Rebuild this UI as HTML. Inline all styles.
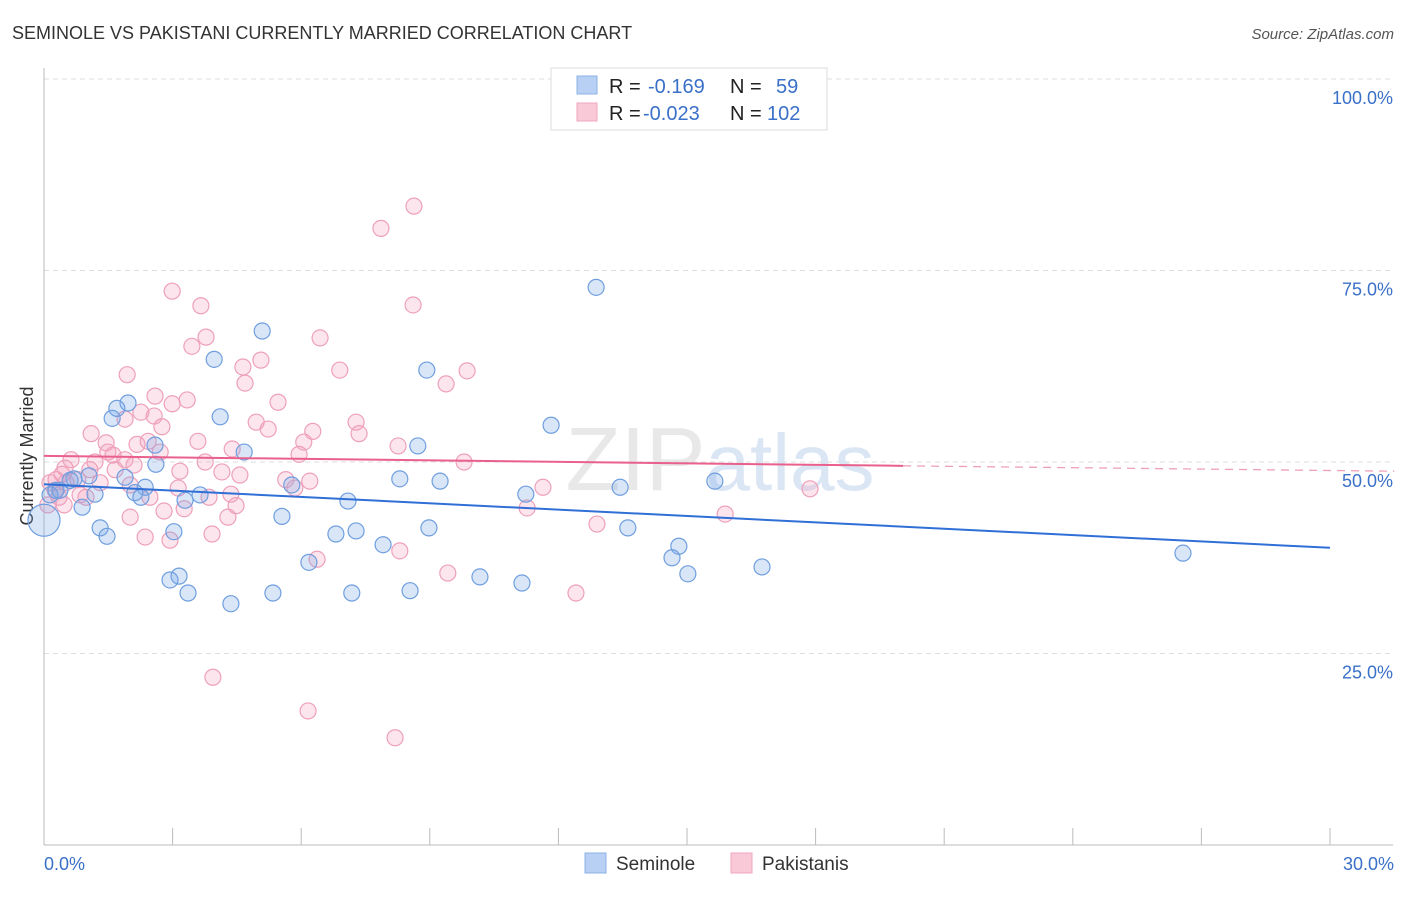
<!DOCTYPE html>
<html><head><meta charset="utf-8"><style>
body{margin:0;background:#fff;font-family:"Liberation Sans",sans-serif;}
svg text{font-family:"Liberation Sans",sans-serif;}
</style></head><body>
<svg id="chart" width="1406" height="892" xmlns="http://www.w3.org/2000/svg">
<text x="12" y="39" font-size="18" fill="#333">SEMINOLE VS PAKISTANI CURRENTLY MARRIED CORRELATION CHART</text>
<text x="1394" y="39" font-size="15" fill="#555" font-style="italic" text-anchor="end">Source: ZipAtlas.com</text>
<text x="33" y="456" font-size="18" fill="#333" transform="rotate(-90 33 456)" text-anchor="middle">Currently Married</text>
<text x="720" y="490" font-size="90" fill="#e8e8e8" text-anchor="middle" font-family="Liberation Serif">ZIP<tspan fill="#dbe6f5" font-family="Liberation Sans" font-size="80">atlas</tspan></text>
<g id="grid"></g><g id="axes"></g><g id="marks"></g><g id="trends"></g>
<g>
<rect x="551" y="68" width="276" height="62" fill="#fff" stroke="#ddd"/>
<rect x="577" y="76" width="20" height="18" fill="#b7d0f3" stroke="#8cb1e6"/>
<rect x="577" y="103" width="20" height="18" fill="#f9c9d8" stroke="#f0a6be"/>
<text x="609" y="93" font-size="20" fill="#222">R = <tspan fill="#3a70c8" x="648">-0.169</tspan><tspan fill="#222" x="730">N =</tspan><tspan fill="#3a70c8" x="776">59</tspan></text>
<text x="609" y="120" font-size="20" fill="#222">R = <tspan fill="#3a70c8" x="643">-0.023</tspan><tspan fill="#222" x="730">N =</tspan><tspan fill="#3a70c8" x="767">102</tspan></text>
</g>
<g>
<rect x="585" y="853" width="21" height="20" fill="#b7d0f3" stroke="#8cb1e6"/>
<text x="616" y="870" font-size="19" fill="#333">Seminole</text>
<rect x="731" y="853" width="21" height="20" fill="#f9c9d8" stroke="#f0a6be"/>
<text x="762" y="870" font-size="19" fill="#333">Pakistanis</text>
</g>
</svg>
<script>
const blueX=[12.88,5.09,3.97,8.93,11.83,4.11,1.59,1.96,1.70,4.67,2.61,2.59,8.72,8.30,9.24,1.05,0.70,1.89,2.36,2.12,2.26,3.64,3.29,1.19,0.89,0.28,5.78,7.09,11.24,13.44,15.65,1.31,1.47,5.55,3.03,6.81,7.28,7.91,8.98,13.62,14.81,14.65,15.02,16.75,26.57,6.18,3.15,2.94,3.36,4.36,5.34,7.18,8.54,10.17,11.15,0.14,0.37,0.61];
const blueY=[72.8,67.1,63.4,62.0,54.8,55.9,55.7,57.7,57.0,51.3,49.7,52.2,52.1,47.8,47.5,48.2,47.8,48.0,46.7,46.0,45.4,45.7,45.0,45.8,44.1,46.3,47.0,44.9,45.8,46.7,47.5,41.4,40.3,42.9,40.9,40.6,41.0,39.2,41.4,41.4,39.0,37.5,35.4,36.3,38.1,36.9,35.1,34.6,32.9,31.5,32.9,32.9,33.2,35.0,34.2,45.7,46.3,47.6];
const pinkX=[8.63,7.86,2.99,3.66,8.61,3.78,3.45,6.44,5.06,4.64,6.90,9.87,9.38,4.69,1.94,2.59,3.34,2.99,2.26,2.57,1.89,5.46,4.95,5.23,7.28,7.35,6.27,2.75,1.10,1.45,2.17,2.43,3.59,4.39,2.71,6.06,5.95,1.49,1.61,1.89,2.10,0.63,0.49,1.19,0.42,3.76,3.17,4.15,4.57,5.64,6.20,5.85,9.80,8.26,11.64,17.87,2.01,1.31,2.47,3.13,3.85,4.36,0.98,0.47,0.35,0.26,0.14,0.09,0.79,2.01,2.80,3.27,4.48,4.29,11.27,12.90,15.89,2.36,2.94,3.92,6.37,8.30,9.42,12.41,3.94,6.16,8.19,0.28,0.51,0.84,1.66,1.07];
const pinkY=[83.4,80.5,72.3,70.4,70.5,66.3,65.1,66.2,63.3,62.4,62.0,61.9,60.2,60.3,61.4,58.6,58.1,57.6,56.5,56.0,55.6,57.8,55.2,54.3,55.2,53.7,54.0,54.6,53.7,52.5,52.3,52.7,52.7,51.7,51.3,52.6,51.0,51.3,50.9,50.3,49.6,50.3,49.2,50.0,48.4,50.0,48.8,48.7,48.3,47.7,47.5,46.6,50.0,52.1,46.7,46.5,47.0,47.3,45.4,46.6,45.4,45.8,45.4,44.4,45.4,46.3,47.3,44.4,47.7,42.8,43.6,43.9,44.3,42.8,44.0,41.9,43.2,40.2,39.8,40.6,37.3,38.4,35.5,32.9,21.9,17.5,14.0,47.7,47.3,45.7,49.0,49.0];
const blueTrend=[[0,47.1],[30,38.8]];
const pinkTrendSolid=[[0,50.8],[20.04,49.5]];
const pinkTrendDash=[[20.04,49.5],[31.5,48.8]];
const yTicks=[25,50,75,100];
const yTickLabels=["25.0%","50.0%","75.0%","100.0%"];
const xTicks=[0,3,6,9,12,15,18,21,24,27,30];

const NS="http://www.w3.org/2000/svg";
const sx=v=>44+v*1286/30;
const sy=v=>845-v*7.66;
function mk(tag,attrs,parent){const e=document.createElementNS(NS,tag);for(const k in attrs)e.setAttribute(k,attrs[k]);document.getElementById(parent).appendChild(e);return e;}
yTicks.forEach((t,i)=>{
  const l=mk('line',{x1:44,x2:1393,y1:sy(t),y2:sy(t),stroke:'#ddd','stroke-dasharray':'5,4'},'grid');
  
  
  const tx=mk('text',{x:1393,y:sy(t)+25,'font-size':18,fill:'#3a70c8','text-anchor':'end'},'grid');
  tx.textContent=yTickLabels[i];
  
  
});
let ax=mk('line',{x1:44,x2:44,y1:68,y2:845,stroke:'#bbb'},'axes');


ax=mk('line',{x1:44,x2:1393,y1:845,y2:845,stroke:'#bbb'},'axes');


xTicks.forEach(t=>{
  const l=mk('line',{x1:sx(t),x2:sx(t),y1:828,y2:845,stroke:'#bbb'},'axes');
  
  
});
let xl=mk('text',{x:44,y:870,'font-size':18,fill:'#3a70c8'},'axes');xl.textContent='0.0%';


xl=mk('text',{x:1394,y:870,'font-size':18,fill:'#3a70c8','text-anchor':'end'},'axes');xl.textContent='30.0%';


pinkX.forEach((x,i)=>{
  const c=mk('circle',{cx:sx(x),cy:sy(pinkY[i]),r:8,fill:'rgba(244,160,190,0.28)',stroke:'#eea0ba','stroke-width':1.2},'marks');
  
  
});
blueX.forEach((x,i)=>{
  const c=mk('circle',{cx:sx(x),cy:sy(blueY[i]),r:8,fill:'rgba(120,165,230,0.28)',stroke:'#6f9edf','stroke-width':1.2},'marks');
  
  
});
const big=mk('circle',{cx:sx(0),cy:sy(42.4),r:16,fill:'rgba(120,165,230,0.28)',stroke:'#6f9edf','stroke-width':1.2},'marks');


let t=mk('line',{x1:sx(blueTrend[0][0]),y1:sy(blueTrend[0][1]),x2:sx(blueTrend[1][0]),y2:sy(blueTrend[1][1]),stroke:'#2f6fd6','stroke-width':2},'trends');


t=mk('line',{x1:sx(pinkTrendSolid[0][0]),y1:sy(pinkTrendSolid[0][1]),x2:sx(pinkTrendSolid[1][0]),y2:sy(pinkTrendSolid[1][1]),stroke:'#e9608c','stroke-width':2},'trends');


t=mk('line',{x1:sx(pinkTrendDash[0][0]),y1:sy(pinkTrendDash[0][1]),x2:sx(pinkTrendDash[1][0]),y2:sy(pinkTrendDash[1][1]),stroke:'#eea0ba','stroke-width':1.3,'stroke-dasharray':'8,6'},'trends');


</script>
</body></html>
